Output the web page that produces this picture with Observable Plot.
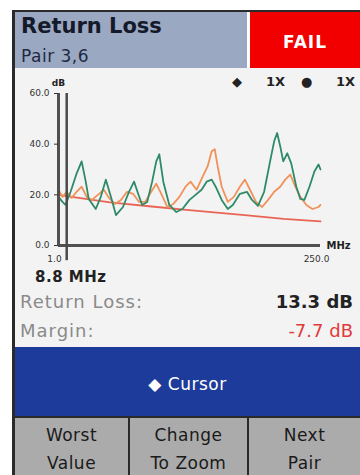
<!DOCTYPE html>
<html><head><meta charset="utf-8">
<script src="https://cdn.jsdelivr.net/npm/d3@7"></script>
<script src="https://cdn.jsdelivr.net/npm/@observablehq/plot@0.6"></script>
<style>
body{margin:0;width:360px;height:475px;position:relative;overflow:hidden;background:#fff;font-family:"DejaVu Sans",sans-serif;}
.abs{position:absolute;white-space:nowrap;}
</style></head>
<body>
<script>
// ---- data ----
const greenFreq = [1,4.8,7.7,12.5,18.2,23,26.9,29.7,36.4,41.2,46,50.8,55.6,62.3,68,72.8,76.7,80.5,85.3,90,93.9,96.8,100.6,106.3,113,118.8,125.5,131.2,137,141.8,146.6,150.4,156.1,161.9,166.7,173.4,180.1,184.9,190.6,196.4,202.1,206,208.8,211.7,214.6,218.4,222.2,227,230.8,234.7,239.5,244.2,248.1,250];
const greenDb   = [19.2,17.2,16,21.2,28.4,33.2,25.2,18.4,14.4,19.2,26,19.2,12,15.2,21.2,25.2,20.4,16,17.2,25.2,33.2,36,25.2,16,13.2,14.4,18,20,22,25.2,26,23.2,18,14.4,16,20.4,21.2,18,15.6,21.2,33.2,41.2,44.4,39.2,33.2,36.4,32.4,23.2,18.4,18,23.2,29.2,32,30];
const orangeFreq = [1,4.8,8.7,13.5,18.2,23,27.8,32.6,38.4,44.1,48.9,54.6,60.4,66.1,71.9,77.6,83.4,89.1,93.9,98.7,104.4,110.2,115.9,121.7,126.5,132.2,138,142.7,146.6,149.5,152.3,156.1,161.9,167.6,173.4,178.2,183,188.7,194.5,200.2,206,211.7,216.5,221.3,226.1,230.8,236.6,242.3,248.1,250];
const orangeDb   = [22,19.2,21.2,18.8,21.2,23.2,19.2,18,20,22,18.8,16.4,18,21.2,20.4,17.2,17.2,21.2,24.4,20.4,15.2,16.4,19.2,23.2,25.2,22,27.2,31.2,37.2,38,31.2,23.2,17.2,19.2,23.2,26,22,17.2,15.2,18,21.2,23.2,26,28,23.2,19.2,16,14.4,15.2,16];
const limitFreq = [1,25,50,87,125,178,215,250];
const limitDb   = [20,18.5,17,15.5,14,12,10.5,9.5];
const yTicks = [0,20,40,60];
const xTicks = [1,250];
const cursorMHz = 8.8;
const titleText = "Return Loss", pairText = "Pair 3,6", statusText = "FAIL";
const legendLabels = ["1X", "1X"];
const readoutLabels = ["Return Loss:", "Margin:"];
const readoutValues = ["13.3 dB", "-7.7 dB"];
const buttonLabels = [["Worst","Value"],["Change","To Zoom"],["Next","Pair"]];

function div(style, html){const d=document.createElement("div");d.className="abs";d.style.cssText=style;if(html!==undefined)d.innerHTML=html;document.body.appendChild(d);return d;}

// frame & panels
div("left:12px;top:10px;width:348px;height:465px;background:#f3f3f3;border-left:3px solid #2a2a2a;border-top:2px solid #2a2a2a;");
div("left:15px;top:12px;width:232px;height:56px;background:#9ba8c2;");
div("left:247px;top:12px;width:3px;height:56px;background:#ffffff;");
div("left:250px;top:12px;width:110px;height:56px;background:#f20000;");
div("left:21px;top:14px;font-size:21px;font-weight:bold;color:#141a2a;", titleText);
div("left:21px;top:46px;font-size:17px;letter-spacing:0.5px;color:#1e2a44;", pairText);
div("left:250px;top:32px;width:110px;text-align:center;font-size:17px;letter-spacing:1px;font-weight:bold;color:#fff;", statusText);

// legend
div("left:232px;top:74px;font-size:13px;color:#222;", "◆");
div("left:266px;top:74px;font-size:13px;font-weight:bold;color:#222;", legendLabels[0]);
div("left:301px;top:74px;font-size:13px;color:#222;", "●");
div("left:336px;top:74px;font-size:13px;font-weight:bold;color:#222;", legendLabels[1]);

// chart
const n1 = greenFreq.map((f,i)=>({f, db: greenDb[i]}));
const n2 = orangeFreq.map((f,i)=>({f, db: orangeDb[i]}));
const lim = limitFreq.map((f,i)=>({f, db: limitDb[i]}));
const chart = Plot.plot({
  width: 345, height: 200,
  marginLeft: 43, marginRight: 40, marginTop: 25, marginBottom: 23,
  style: {background: "transparent", fontFamily: "DejaVu Sans", color: "#333"},
  x: {domain: [1, 250]},
  y: {domain: [0, 60]},
  marks: [
    Plot.line(lim, {x: "f", y: "db", stroke: "#ea6456", strokeWidth: 1.8}),
    Plot.line(n2, {x: "f", y: "db", stroke: "#f0925a", strokeWidth: 1.8}),
    Plot.line(n1, {x: "f", y: "db", stroke: "#2e8a68", strokeWidth: 1.8}),
    Plot.ruleX([1], {stroke: "#505050", strokeWidth: 3}),
    Plot.ruleY([0], {x1: 1, x2: 250, stroke: "#505050", strokeWidth: 3}),
    Plot.ruleX([cursorMHz], {y1: -6, y2: 60, stroke: "#4a4a4a", strokeWidth: 2.5}),
    Plot.axisY({ticks: yTicks, tickFormat: d => d.toFixed(1), tickSize: 4, fontSize: 9, label: null}),
    Plot.axisX({ticks: xTicks, tickFormat: d => d.toFixed(1), tickSize: 0, tickPadding: 10, fontSize: 9, dx: -4, label: null}),
    Plot.text([{x: 1, y: 60, t: "dB"}], {x: "x", y: "y", text: "t", dy: -10, fontSize: 9, fontWeight: "bold", fill: "#222"}),
    Plot.text([{x: 250, y: 0, t: "MHz"}], {x: "x", y: "y", text: "t", dx: 6, textAnchor: "start", fontSize: 10, fontWeight: "bold", fill: "#222"})
  ]
});
const holder = div("left:15px;top:68px;width:345px;height:200px;");
holder.appendChild(chart);

// readouts
div("left:35px;top:268px;font-size:15px;letter-spacing:0.5px;font-weight:bold;color:#222;", cursorMHz.toFixed(1) + " MHz");
div("left:20px;top:291px;font-size:18px;letter-spacing:1px;color:#8a8a8a;", readoutLabels[0]);
div("right:7px;top:291px;font-size:18px;font-weight:bold;color:#222;", readoutValues[0]);
div("left:20px;top:320px;font-size:18px;letter-spacing:1px;color:#8a8a8a;", readoutLabels[1]);
div("right:7px;top:320px;font-size:18px;color:#e03a3a;", readoutValues[1]);

// cursor band
div("left:15px;top:347px;width:345px;height:70px;background:#1d3b9b;");
div("left:15px;top:374px;width:345px;text-align:center;font-size:17px;letter-spacing:0.5px;color:#fff;", "◆ Cursor");

// buttons
const bx = [15,130,249], bw = [113,117,111];
buttonLabels.forEach((lab,i)=>{
  div(`left:${bx[i]}px;top:417px;width:${bw[i]}px;height:54px;background:#ababab;text-align:center;font-size:17px;letter-spacing:0.5px;line-height:28px;padding-top:4px;color:#1a1a1a;`, lab[0]+"<br>"+lab[1]);
});
div("left:15px;top:416px;width:345px;height:2px;background:#2a2a2a;");
div("left:128px;top:417px;width:2px;height:58px;background:#2a2a2a;");
div("left:247px;top:417px;width:2px;height:58px;background:#2a2a2a;");
</script>
</body></html>
